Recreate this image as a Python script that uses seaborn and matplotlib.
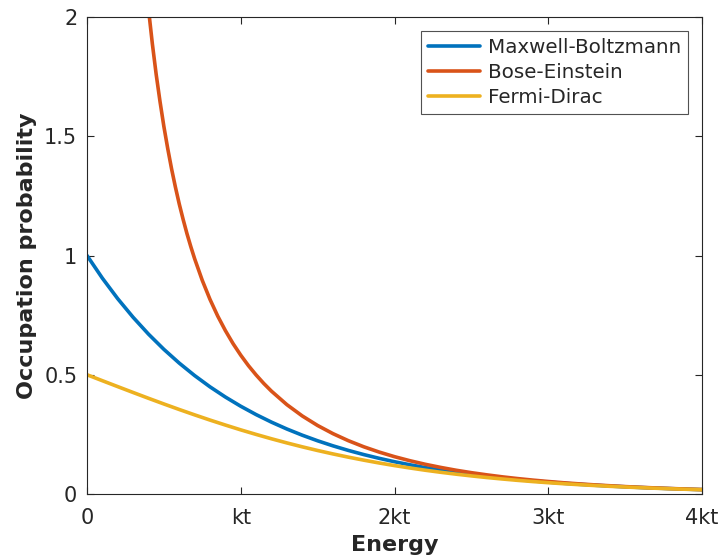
import matplotlib
matplotlib.use("Agg")
import matplotlib.pyplot as plt
import seaborn as sns
import pandas as pd

x_mb = [0.0, 0.1, 0.2, 0.3, 0.4, 0.5, 0.6, 0.7, 0.8, 0.9, 1.0, 1.1, 1.2, 1.3, 1.4, 1.5,
        1.6, 1.7, 1.8, 1.9, 2.0, 2.1, 2.2, 2.3, 2.4, 2.5, 2.6, 2.7, 2.8, 2.9, 3.0, 3.1,
        3.2, 3.3, 3.4, 3.5, 3.6, 3.7, 3.8, 3.9, 4.0]
maxwell_boltzmann = [1.0000, 0.9048, 0.8187, 0.7408, 0.6703, 0.6065, 0.5488, 0.4966, 0.4493,
                     0.4066, 0.3679, 0.3329, 0.3012, 0.2725, 0.2466, 0.2231, 0.2019, 0.1827,
                     0.1653, 0.1496, 0.1353, 0.1225, 0.1108, 0.1003, 0.0907, 0.0821, 0.0743,
                     0.0672, 0.0608, 0.0550, 0.0498, 0.0450, 0.0408, 0.0369, 0.0334, 0.0302,
                     0.0273, 0.0247, 0.0224, 0.0202, 0.0183]

x_be = [0.3, 0.35, 0.375, 0.4, 0.425, 0.45, 0.475, 0.5, 0.525, 0.55, 0.575, 0.6, 0.625,
        0.65, 0.675, 0.7, 0.75, 0.8, 0.85, 0.9, 0.95, 1.0, 1.05, 1.1, 1.15, 1.2, 1.3, 1.4,
        1.5, 1.6, 1.7, 1.8, 1.9, 2.0, 2.1, 2.2, 2.3, 2.4, 2.5, 2.6, 2.7, 2.8, 2.9, 3.0, 3.1,
        3.2, 3.3, 3.4, 3.5, 3.6, 3.7, 3.8, 3.9, 4.0]
bose_einstein = [2.858, 2.386, 2.198, 2.033, 1.888, 1.759, 1.645, 1.541, 1.4486, 1.3635,
                 1.2868, 1.216, 1.1519, 1.092, 1.0375, 0.9865, 0.8953, 0.8159, 0.7464,
                 0.6852, 0.6305, 0.5820, 0.5382, 0.4990, 0.4633, 0.4310, 0.3746, 0.3273,
                 0.2872, 0.2530, 0.2235, 0.1980, 0.1759, 0.1565, 0.1396, 0.1246, 0.1115,
                 0.0997, 0.0894, 0.0803, 0.0720, 0.0647, 0.0582, 0.0524, 0.0471, 0.0425,
                 0.0383, 0.0346, 0.0311, 0.0281, 0.0253, 0.0229, 0.0206, 0.0186]

x_fd = x_mb
fermi_dirac = [0.5000, 0.4750, 0.4502, 0.4256, 0.4013, 0.3775, 0.3543, 0.3318, 0.3100,
               0.2891, 0.2689, 0.2498, 0.2315, 0.2142, 0.1978, 0.1824, 0.1680, 0.1545,
               0.1419, 0.1301, 0.1192, 0.1091, 0.0997, 0.0911, 0.0832, 0.0759, 0.0691,
               0.0630, 0.0573, 0.0521, 0.0474, 0.0431, 0.0392, 0.0356, 0.0323, 0.0293,
               0.0266, 0.0241, 0.0219, 0.0198, 0.0180]

series_names = ["Maxwell-Boltzmann", "Bose-Einstein", "Fermi-Dirac"]
x_ticks = [0, 1, 2, 3, 4]
x_tick_labels = ["0", "kt", "2kt", "3kt", "4kt"]
y_ticks = [0, 0.5, 1, 1.5, 2]
y_tick_labels = ["0", "0.5", "1", "1.5", "2"]
colors = ["#0072BD", "#D95319", "#EDB120"]

df = pd.concat([
    pd.DataFrame({"x": x_mb, "y": maxwell_boltzmann, "dist": series_names[0]}),
    pd.DataFrame({"x": x_be, "y": bose_einstein, "dist": series_names[1]}),
    pd.DataFrame({"x": x_fd, "y": fermi_dirac, "dist": series_names[2]}),
], ignore_index=True)

sns.set_theme(style="white")
plt.rcParams["font.family"] = ["DejaVu Sans"]

fig = plt.figure(figsize=(7.23, 5.57), dpi=100)
ax = fig.add_axes([87 / 723, 1 - 494 / 557, (702 - 87) / 723, (494 - 17) / 557])

lw = 2.6
sns.lineplot(data=df, x="x", y="y", hue="dist", palette=colors, hue_order=series_names,
             linewidth=lw, ax=ax, sort=False, estimator=None)

ax.set_xlim(0, 4)
ax.set_ylim(0, 2)
ax.set_xticks(x_ticks)
ax.set_xticklabels(x_tick_labels)
ax.set_yticks(y_ticks)
ax.set_yticklabels(y_tick_labels)
axis_col = "#262626"
for s in ax.spines.values():
    s.set_visible(True)
    s.set_color(axis_col)
    s.set_linewidth(0.8)
ax.tick_params(direction="in", length=5, width=0.8, colors=axis_col, labelsize=15,
               top=True, right=True, bottom=True, left=True, pad=7)
ax.tick_params(axis="x", pad=10)
ax.set_xlabel("Energy", fontsize=16, fontweight="bold", color=axis_col, labelpad=5)
ax.set_ylabel("Occupation probability", fontsize=16, fontweight="bold", color=axis_col, labelpad=5)

leg = ax.legend(loc="upper right", bbox_to_anchor=(0.977, 0.97), fontsize=14.3,
                frameon=True, fancybox=False, edgecolor="#262626", handlelength=2.6,
                borderpad=0.35, labelspacing=0.3, handletextpad=0.4, borderaxespad=0)
leg.get_frame().set_linewidth(0.8)
for line in leg.get_lines():
    line.set_linewidth(lw)

fig.savefig("out.png", dpi=100)
